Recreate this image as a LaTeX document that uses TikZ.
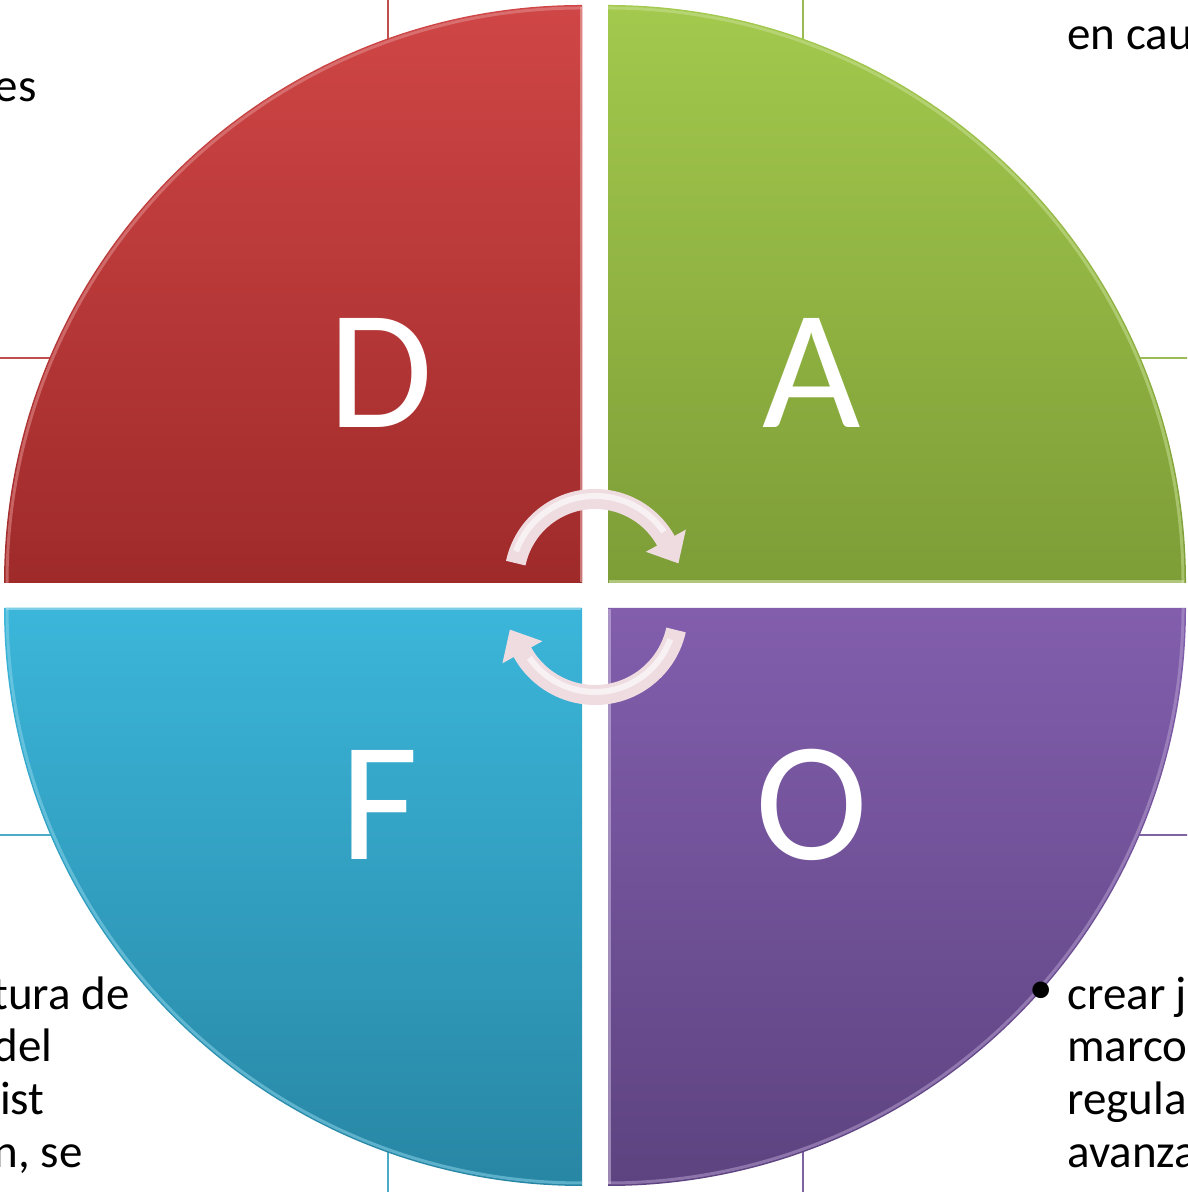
\documentclass[tikz,border=0pt]{standalone}
\usepackage{fontspec}
\setmainfont{Carlito}
\usetikzlibrary{arrows.meta}
\definecolor{rojoA}{HTML}{D04646}
\definecolor{rojoB}{HTML}{9F2A2A}
\definecolor{verdeA}{HTML}{A3C94D}
\definecolor{verdeB}{HTML}{7D9D37}
\definecolor{azulA}{HTML}{3BB6DA}
\definecolor{azulB}{HTML}{2886A4}
\definecolor{moradoA}{HTML}{825EAD}
\definecolor{moradoB}{HTML}{5D4380}
\definecolor{rojoL}{HTML}{C0504D}
\definecolor{verdeL}{HTML}{9BBB59}
\definecolor{azulL}{HTML}{4BACC6}
\definecolor{moradoL}{HTML}{8064A2}
\definecolor{flechaC}{HTML}{EFDCE1}

\begin{document}
\begin{tikzpicture}[x=0.5pt, y=0.5pt,
    letra/.style={text=white, font=\fontsize{85}{100}\selectfont, inner sep=0pt, anchor=base},
    texto/.style={font=\fontsize{23.5}{26.25}\selectfont, inner sep=0pt},
    caja/.style={line width=0.75pt, fill=white},
    borde/.style={line width=1.5pt, opacity=0.55},
    flecha/.style={line width=10pt, draw=flechaC, -{Triangle[width=22pt, length=13pt]}},
    brillo/.style={line width=3pt, draw=white, opacity=0.6}]
    \pgfmathsetmacro{\ancho}{1187}
    \pgfmathsetmacro{\alto}{1192}
    \pgfmathsetmacro{\rad}{578}
    \useasboundingbox (0,0) rectangle (\ancho,\alto);
    \clip (0,0) rectangle (\ancho,\alto);
    % Cajas
    \draw[caja, draw=rojoL] (-20,834) rectangle (388,1212);
    \draw[caja, draw=verdeL] (803,834) rectangle (1207,1212);
    \draw[caja, draw=azulL] (-20,-20) rectangle (388,357);
    \draw[caja, draw=moradoL] (803,-20) rectangle (1207,357);
    % Cuadrantes
    \shade[top color=rojoA, bottom color=rojoB] (582,609) -- ++(-\rad,0) arc[start angle=180, end angle=90, radius=\rad] -- cycle;
    \shade[top color=verdeA, bottom color=verdeB] (608,609) -- ++(0,\rad) arc[start angle=90, end angle=0, radius=\rad] -- cycle;
    \shade[top color=azulA, bottom color=azulB] (582,584) -- ++(-\rad,0) arc[start angle=180, end angle=270, radius=\rad] -- cycle;
    \shade[top color=moradoA, bottom color=moradoB] (608,584) -- ++(0,-\rad) arc[start angle=270, end angle=360, radius=\rad] -- cycle;
    % Brillo del borde
    \draw[borde, draw=rojoA!60!white] ({582-\rad+3},609) arc[start angle=180, end angle=90, radius={\rad-3}];
    \draw[borde, draw=verdeA!60!white] (608,{609+\rad-3}) arc[start angle=90, end angle=0, radius={\rad-3}];
    \draw[borde, draw=azulA!60!white] ({582-\rad+3},584) arc[start angle=180, end angle=270, radius={\rad-3}];
    \draw[borde, draw=moradoA!60!white] (608,{584-\rad+3}) arc[start angle=270, end angle=360, radius={\rad-3}];
    \draw[borde, draw=rojoA!40!white] (581,610) -- (581,{609+\rad-2});
    \draw[borde, draw=verdeA!40!white] (609,610) -- ({608+\rad-2},610);
    \draw[borde, draw=azulA!40!white] ({582-\rad+2},583) -- (581,583);
    \draw[borde, draw=moradoA!40!white] (609,583) -- (609,{584-\rad+2});
    % Letras
    \node[letra] (letD) at (381,764) {D};
    \node[letra] (letA) at (812,764) {A};
    \node[letra] (letF) at (380,332) {F};
    \node[letra] (letO) at (812,332) {O};
    % Flechas
    \draw[flecha] (595,612) ++(168:81) arc[start angle=168, end angle=29, radius=81] -- ++(-61:26);
    \draw[brillo] (595,612) ++(160:84) arc[start angle=160, end angle=35, radius=84];
    \draw[flecha] (595,580) ++(-12.5:83) arc[start angle=-12.5, end angle=-151, radius=83] -- ++(119:26);
    \draw[brillo] (595,580) ++(-20:80) arc[start angle=-20, end angle=-145, radius=80];
    % Textos
    \node[texto, anchor=base east] (debil) at (37,1090) {es};
    \node[texto, anchor=base west] (amenaza) at (1067,1142) {en cau};
    \node[texto, anchor=base east] (fuerteA) at (130,182) {tura de};
    \node[texto, anchor=base east] (fuerteB) at (53,130) {del};
    \node[texto, anchor=base east] (fuerteC) at (45,77) {sist};
    \node[texto, anchor=base east] (fuerteD) at (83,25) {n, se};
    \node[texto] (punto) at (1041,199) {•};
    \node[texto, anchor=base west] (oportA) at (1067,182) {crear j};
    \node[texto, anchor=base west] (oportB) at (1067,130) {marco};
    \node[texto, anchor=base west] (oportC) at (1067,77) {regula};
    \node[texto, anchor=base west] (oportD) at (1067,25) {avanza};
\end{tikzpicture}
\end{document}
